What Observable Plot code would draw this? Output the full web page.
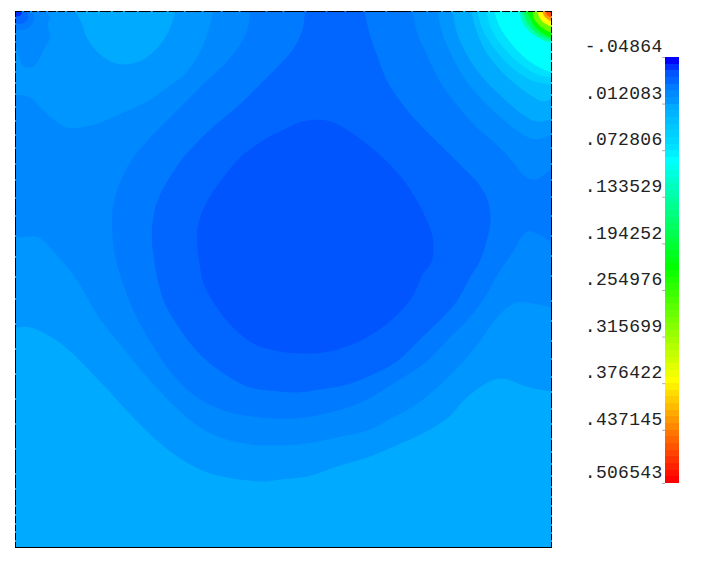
<!DOCTYPE html>
<html>
<head>
<meta charset="utf-8">
<script src="https://cdn.jsdelivr.net/npm/d3@7"></script>
<script src="https://cdn.jsdelivr.net/npm/@observablehq/plot@0.6"></script>
<style>
html,body{margin:0;padding:0;background:#fff}
#wrap{position:relative;width:706px;height:572px;overflow:hidden}
#wrap svg{position:absolute;top:0;background:transparent}
</style>
</head>
<body>
<div id="wrap"></div>
<script>
// Colour bar: tick values and their printed labels
const barTickValues = [-0.04864, 0.012083, 0.072806, 0.133529, 0.194252, 0.254976, 0.315699, 0.376422, 0.437145, 0.506543];
const barTickLabels = ["-.04864", ".012083", ".072806", ".133529", ".194252", ".254976", ".315699", ".376422", ".437145", ".506543"];
const levelCount = 64;

// Palette stops: level index -> colour
const paletteLevels = [0, 1, 2, 3, 4, 5, 6, 7, 8, 9, 10, 11, 12, 13, 14, 15, 31, 48, 63];
const paletteColors = ["#0000ff", "#0030ff", "#0055ff", "#0066ff", "#007aff", "#0088ff", "#0096ff", "#00aaff", "#00b4ff", "#00beff", "#00c8ff", "#00d0ff", "#00d8ff", "#00e0ff", "#00f0ff", "#00ffff", "#00ff00", "#ffff00", "#ff0000"];

// Contour regions in mesh units (x right, y down from the top-left corner)
const domainSize = [537, 536];
const regionA0 = [[-20, -20], [557, -20], [557, 556], [-20, 556]];
const regionB = [[-20, 316], [0, 316], [15, 316], [35, 325], [55, 340], [75, 360], [95, 381], [115, 403], [135, 423], [155, 440], [175, 453], [195, 462], [225, 468], [250, 470], [265, 468], [292, 465], [322, 455], [355, 445], [388, 431], [408, 422], [435, 405], [448, 390], [462, 378], [473, 371], [487, 367], [515, 376], [537, 380], [557, 384], [557, -20], [-20, -20]];
const lobeA = [[55, -10], [60, 0], [67, 13], [70, 23], [78, 36], [95, 50], [110, 53], [128, 48], [145, 33], [155, 16], [160, 0], [162, -10]];
const regionC = [[-20, 83], [0, 83], [15, 86], [25, 96], [38, 108], [52, 116], [65, 116], [85, 111], [108, 101], [132, 90], [152, 76], [172, 60], [185, 40], [193, 20], [198, 0], [200, -20], [421, -20], [423, 0], [428, 23], [438, 46], [452, 70], [472, 93], [492, 111], [512, 125], [522, 128], [537, 123], [557, 118], [557, 300], [537, 296], [512, 291], [502, 291], [485, 303], [468, 326], [455, 343], [438, 361], [418, 380], [398, 395], [378, 406], [355, 418], [322, 426], [292, 432], [265, 434], [235, 433], [205, 426], [185, 416], [165, 400], [145, 380], [125, 358], [105, 333], [85, 308], [63, 271], [52, 256], [38, 240], [23, 226], [0, 226], [-20, 226]];
const regionD = [[235, 0], [236, -20], [396, -20], [398, 0], [403, 23], [412, 43], [425, 70], [442, 93], [462, 116], [482, 133], [498, 150], [512, 166], [522, 168], [537, 158], [557, 148], [557, 238], [537, 230], [513, 220], [498, 241], [483, 263], [472, 283], [455, 306], [435, 326], [412, 350], [382, 370], [348, 390], [315, 401], [282, 407], [265, 407], [245, 406], [215, 401], [185, 388], [160, 366], [140, 338], [120, 303], [107, 270], [100, 246], [97, 220], [98, 193], [105, 170], [118, 146], [135, 126], [155, 106], [175, 86], [195, 66], [212, 50], [225, 33], [233, 16]];
const regionE = [[290, 0], [291, -20], [348, -20], [350, 0], [355, 23], [363, 46], [373, 71], [388, 93], [405, 113], [425, 133], [445, 153], [462, 170], [472, 186], [476, 206], [472, 230], [465, 250], [457, 263], [442, 290], [428, 306], [405, 328], [382, 350], [358, 363], [332, 373], [305, 378], [282, 381], [265, 380], [235, 376], [210, 363], [185, 343], [165, 318], [150, 293], [143, 271], [140, 256], [137, 233], [137, 213], [142, 190], [152, 170], [165, 150], [177, 136], [195, 118], [215, 101], [228, 90], [245, 73], [262, 56], [280, 35], [288, 16]];
const regionF = [[265, 120], [288, 110], [312, 109], [332, 118], [355, 135], [375, 153], [392, 173], [408, 200], [418, 226], [417, 250], [408, 263], [397, 286], [375, 310], [348, 328], [315, 340], [288, 342], [265, 340], [240, 333], [220, 318], [203, 298], [188, 271], [185, 256], [182, 233], [183, 213], [192, 190], [208, 166], [225, 146], [242, 133], [258, 123]];
const cornerBlob5 = [[-10, 36], [0, 36], [5, 50], [8, 55], [18, 55], [27, 41], [30, 35], [35, 25], [32, 13], [35, 6], [30, 0], [28, -10], [-10, -10]];
const cornerBlob4 = [[-10, 18], [0, 18], [10, 18], [18, 10], [18, 3], [13, 0], [13, -10], [-10, -10]];
const cornerBlob3 = [[-10, 12], [0, 12], [7, 12], [13, 6], [11, 0], [11, -10], [-10, -10]];
const cornerBlob1 = [[-10, 5], [0, 5], [5, 4], [6, 0], [6, -10], [-10, -10]];
const peak7 = [[436, -20], [438, 0], [442, 20], [452, 43], [468, 66], [488, 86], [508, 103], [522, 110], [537, 108], [557, 104], [557, -20]];
const peak9 = [[455, -20], [457, 0], [462, 20], [473, 43], [492, 65], [512, 81], [528, 90], [537, 88], [557, 84], [557, -20]];
const peak11 = [[461, -20], [463, 0], [468, 18], [482, 40], [502, 60], [520, 70], [537, 73], [557, 75], [557, -20]];
const peak13 = [[470, -20], [472, 0], [476, 16], [488, 35], [505, 52], [523, 63], [537, 66], [557, 68], [557, -20]];
const peak15 = [[478, -20], [480, 0], [485, 15], [495, 30], [510, 46], [525, 56], [537, 61], [557, 64], [557, -20]];
const peak20 = [[503, -20], [505, 0], [508, 11], [516, 21], [527, 28], [537, 31], [557, 35], [557, -20]];
const peak25 = [[507, -20], [509, 0], [512, 10], [519, 19], [529, 26], [537, 28], [557, 32], [557, -20]];
const peak31 = [[512, -20], [513, 0], [516, 8], [522, 17], [530, 23], [537, 26], [557, 30], [557, -20]];
const peak38 = [[517, -20], [518, 0], [520, 8], [525, 14], [532, 19], [537, 21], [557, 25], [557, -20]];
const peak48 = [[522, -20], [523, 0], [525, 6], [529, 11], [537, 15], [557, 20], [557, -20]];
const peak54 = [[527, -20], [528, 0], [530, 5], [537, 10], [557, 16], [557, -20]];
const peak58 = [[530, -20], [531, 0], [533, 4], [537, 6], [557, 10], [557, -20]];
const peak62 = [[534, -20], [535, 0], [537, 2], [557, 6], [557, -20]];

// Painter's order: region and its level
const layers = [
  [regionA0, 7], [regionB, 6], [lobeA, 7], [regionC, 5], [regionD, 4], [regionE, 3], [regionF, 2],
  [cornerBlob5, 5], [cornerBlob4, 4], [cornerBlob3, 3], [cornerBlob1, 1],
  [peak7, 7], [peak9, 9], [peak11, 11], [peak13, 13], [peak15, 15], [peak20, 20], [peak25, 25],
  [peak31, 31], [peak38, 38], [peak48, 48], [peak54, 54], [peak58, 58], [peak62, 62]
];

// Mesh nodes on the boundary, and the level found along each edge
const topNodes = [8, 16, 23, 32, 42, 51, 61, 72, 84, 97, 109, 123, 137, 153, 170, 188, 207, 225, 252, 269, 291, 312, 331, 350, 372, 398, 413, 428, 438, 450, 464, 475, 487, 497, 505, 513, 522, 530];
const leftNodes = [7, 13, 23, 31, 41, 51, 61, 72, 83, 96, 110, 124, 137, 153, 169, 187, 205, 225, 246, 266, 288, 313, 338, 363, 388, 413, 438, 463, 478, 495, 504, 513, 521, 530];
const rightNodes = [6, 15, 23, 31, 41, 50, 61, 72, 84, 96, 109, 123, 137, 153, 169, 186, 205, 225, 245, 265, 290, 310, 330, 348, 366, 381, 398, 413, 428, 441, 453, 465, 476, 486, 495, 505, 514, 522, 530];
const topBreaks = [35, 60, 160, 198, 235, 290, 350, 398, 423, 438, 457, 463, 472, 480, 500, 507, 513, 518, 523, 528, 531, 535];
const topLevels = [5, 6, 7, 6, 5, 4, 3, 4, 5, 6, 7, 9, 11, 13, 15, 20, 25, 31, 38, 48, 54, 58, 62];
const rightBreaks = [2, 6, 10, 15, 21, 26, 32, 38, 61, 66, 73, 88, 108, 123, 158, 230, 296, 380];
const rightLevels = [62, 58, 54, 48, 38, 31, 25, 20, 15, 13, 11, 9, 7, 6, 5, 4, 5, 6, 7];
const leftBreaks = [36, 83, 226, 316];
const leftLevels = [5, 6, 5, 6, 7];

const colorScale = {type: "linear", domain: paletteLevels, range: paletteColors, interpolate: "rgb", clamp: true};

const field = Plot.plot({
  width: 560, height: 572,
  marginLeft: 15, marginRight: 9, marginTop: 11, marginBottom: 25,
  style: {background: "transparent"},
  x: {domain: [0, domainSize[0]], axis: null},
  y: {domain: [0, domainSize[1]], reverse: true, axis: null},
  color: colorScale,
  marks: [
    layers.map(([points, level]) => Plot.line(points, {
      x: d => d[0], y: d => d[1], fill: () => level, stroke: "none",
      curve: "catmull-rom-closed", clip: "frame"
    })),
    Plot.frame({stroke: "black", strokeWidth: 1, shapeRendering: "crispEdges"}),
    Plot.ruleY(topNodes, {y: () => 0, x1: d => d - 1, x2: d => d + 1, stroke: d => topLevels[d3.bisect(topBreaks, d)], strokeWidth: 1}),
    Plot.ruleX(leftNodes, {x: () => 0, y1: d => d - 1, y2: d => d + 1, stroke: d => leftLevels[d3.bisect(leftBreaks, d)], strokeWidth: 1}),
    Plot.ruleX(rightNodes, {x: () => domainSize[0], y1: d => d - 1, y2: d => d + 1, stroke: d => rightLevels[d3.bisect(rightBreaks, d)], strokeWidth: 1})
  ]
});

const barMin = barTickValues[0];
const barMax = barTickValues[barTickValues.length - 1];
const barStep = (barMax - barMin) / levelCount;

const bar = Plot.plot({
  width: 146, height: 572,
  marginLeft: 105, marginRight: 27, marginTop: 57, marginBottom: 89,
  style: {background: "transparent", letterSpacing: "0.3px"},
  x: {domain: [0, 1], axis: null},
  y: {domain: [barMin, barMax], reverse: true, axis: null},
  color: colorScale,
  marks: [
    Plot.rectY(d3.range(levelCount), {
      x1: () => 0, x2: () => 1,
      y1: i => barMin + i * barStep, y2: i => barMin + (i + 1) * barStep,
      fill: i => i, inset: 0, shapeRendering: "crispEdges"
    }),
    Plot.axisY(barTickValues, {
      anchor: "left", label: null, tickSize: 0, tickPadding: 3, dy: -11,
      tickFormat: (d, i) => barTickLabels[i],
      fontFamily: "Liberation Mono", fontSize: 18, fontWeight: 300, fill: "#222", textAnchor: "end"
    }),
    Plot.ruleY(barTickValues, {x1: () => -0.2, x2: () => 0, stroke: "#aaaaaa", clip: false})
  ]
});
bar.style.left = "560px";
field.style.left = "0";
document.getElementById("wrap").append(field, bar);
</script>
</body>
</html>
